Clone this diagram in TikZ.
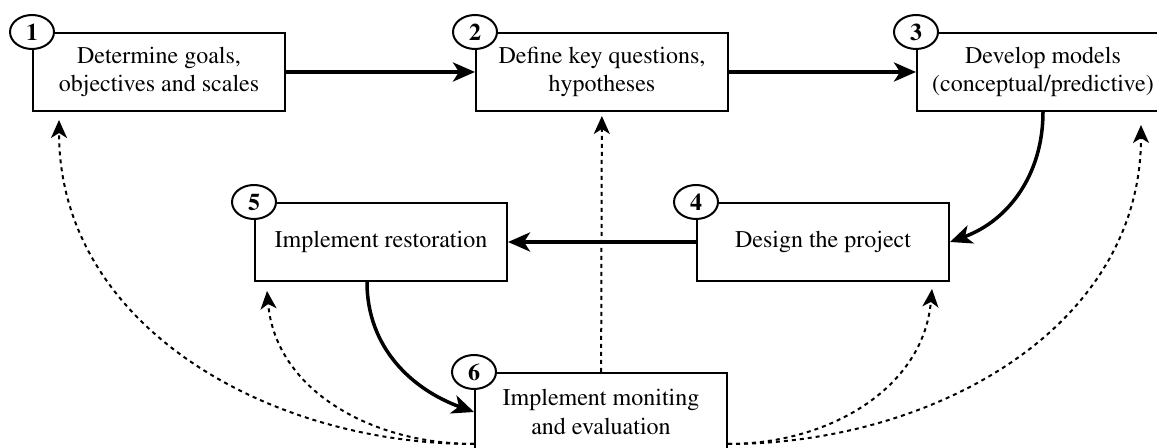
\documentclass[tikz,border=0pt]{standalone}
\usepackage[T1]{fontenc}
\usepackage{times}
\usetikzlibrary{arrows.meta,shapes.geometric}
\tikzset{
  stage/.style={draw, line width=1pt, fill=white, minimum width=126pt,
    minimum height=39pt, inner sep=0pt, align=center,
    font=\fontsize{12}{14.2}\selectfont},
  badge/.style={draw, ellipse, line width=1pt, fill=white, minimum width=22pt,
    minimum height=17pt, inner sep=0pt, font=\fontsize{12}{14}\selectfont\bfseries},
  flow/.style={line width=1.75pt, -{Stealth[length=11pt,width=9.5pt,inset=3pt]}},
  check/.style={line width=1pt, dash pattern=on 2pt off 2pt,
    -{Stealth[length=9pt,width=8pt,inset=2.5pt]}},
}
\begin{document}
\begin{tikzpicture}[x=0.5pt,y=-0.5pt]
      \useasboundingbox (0,0) rectangle (1157,448);
      \draw
        (159,72) node[stage] (1) {Determine goals,\\objectives and scales}
        (602,72) node[stage] (2) {Define key questions,\\hypotheses}
        (1043,72) node[stage] (3) {Develop models\\(conceptual/predictive)}
        (823,242) node[stage] (4) {Design the project}
        (381,242) node[stage] (5) {Implement restoration}
        (601,412) node[stage] (6) {Implement moniting\\and evaluation};
      \begin{scope}[flow]
        \draw (1) -- (2);
        \draw (2) -- (3);
        \draw (3.south) to[out=-90,in=20] (4.east);
        \draw (4) -- (5);
        \draw ([xshift=-7pt]5.south) to[out=-90,in=160] (6.west);
      \end{scope}
      \begin{scope}[check]
        \draw[shorten >=2pt] (6) -- (2);
        \draw ([yshift=4pt]6.south west) to[out=180,in=-90] ([xshift=13.5pt,yshift=-4pt]1.south west);
        \draw ([yshift=4pt]6.south west) to[out=180,in=-85] ([xshift=6.5pt,yshift=-4.5pt]5.south west);
        \draw ([yshift=4pt]6.south east) to[out=0,in=-95] ([xshift=-9pt,yshift=-3.5pt]4.south east);
        \draw ([yshift=4pt]6.south east) to[out=0,in=-90] ([xshift=-14.5pt,yshift=-6.5pt]3.south east);
      \end{scope}
      \draw
        (1.north west) node[badge] (b1) {1}
        (2.north west) node[badge] (b2) {2}
        (3.north west) node[badge] (b3) {3}
        (4.north west) node[badge] (b4) {4}
        (5.north west) node[badge] (b5) {5}
        (6.north west) node[badge] (b6) {6};
    \end{tikzpicture}
\end{document}
